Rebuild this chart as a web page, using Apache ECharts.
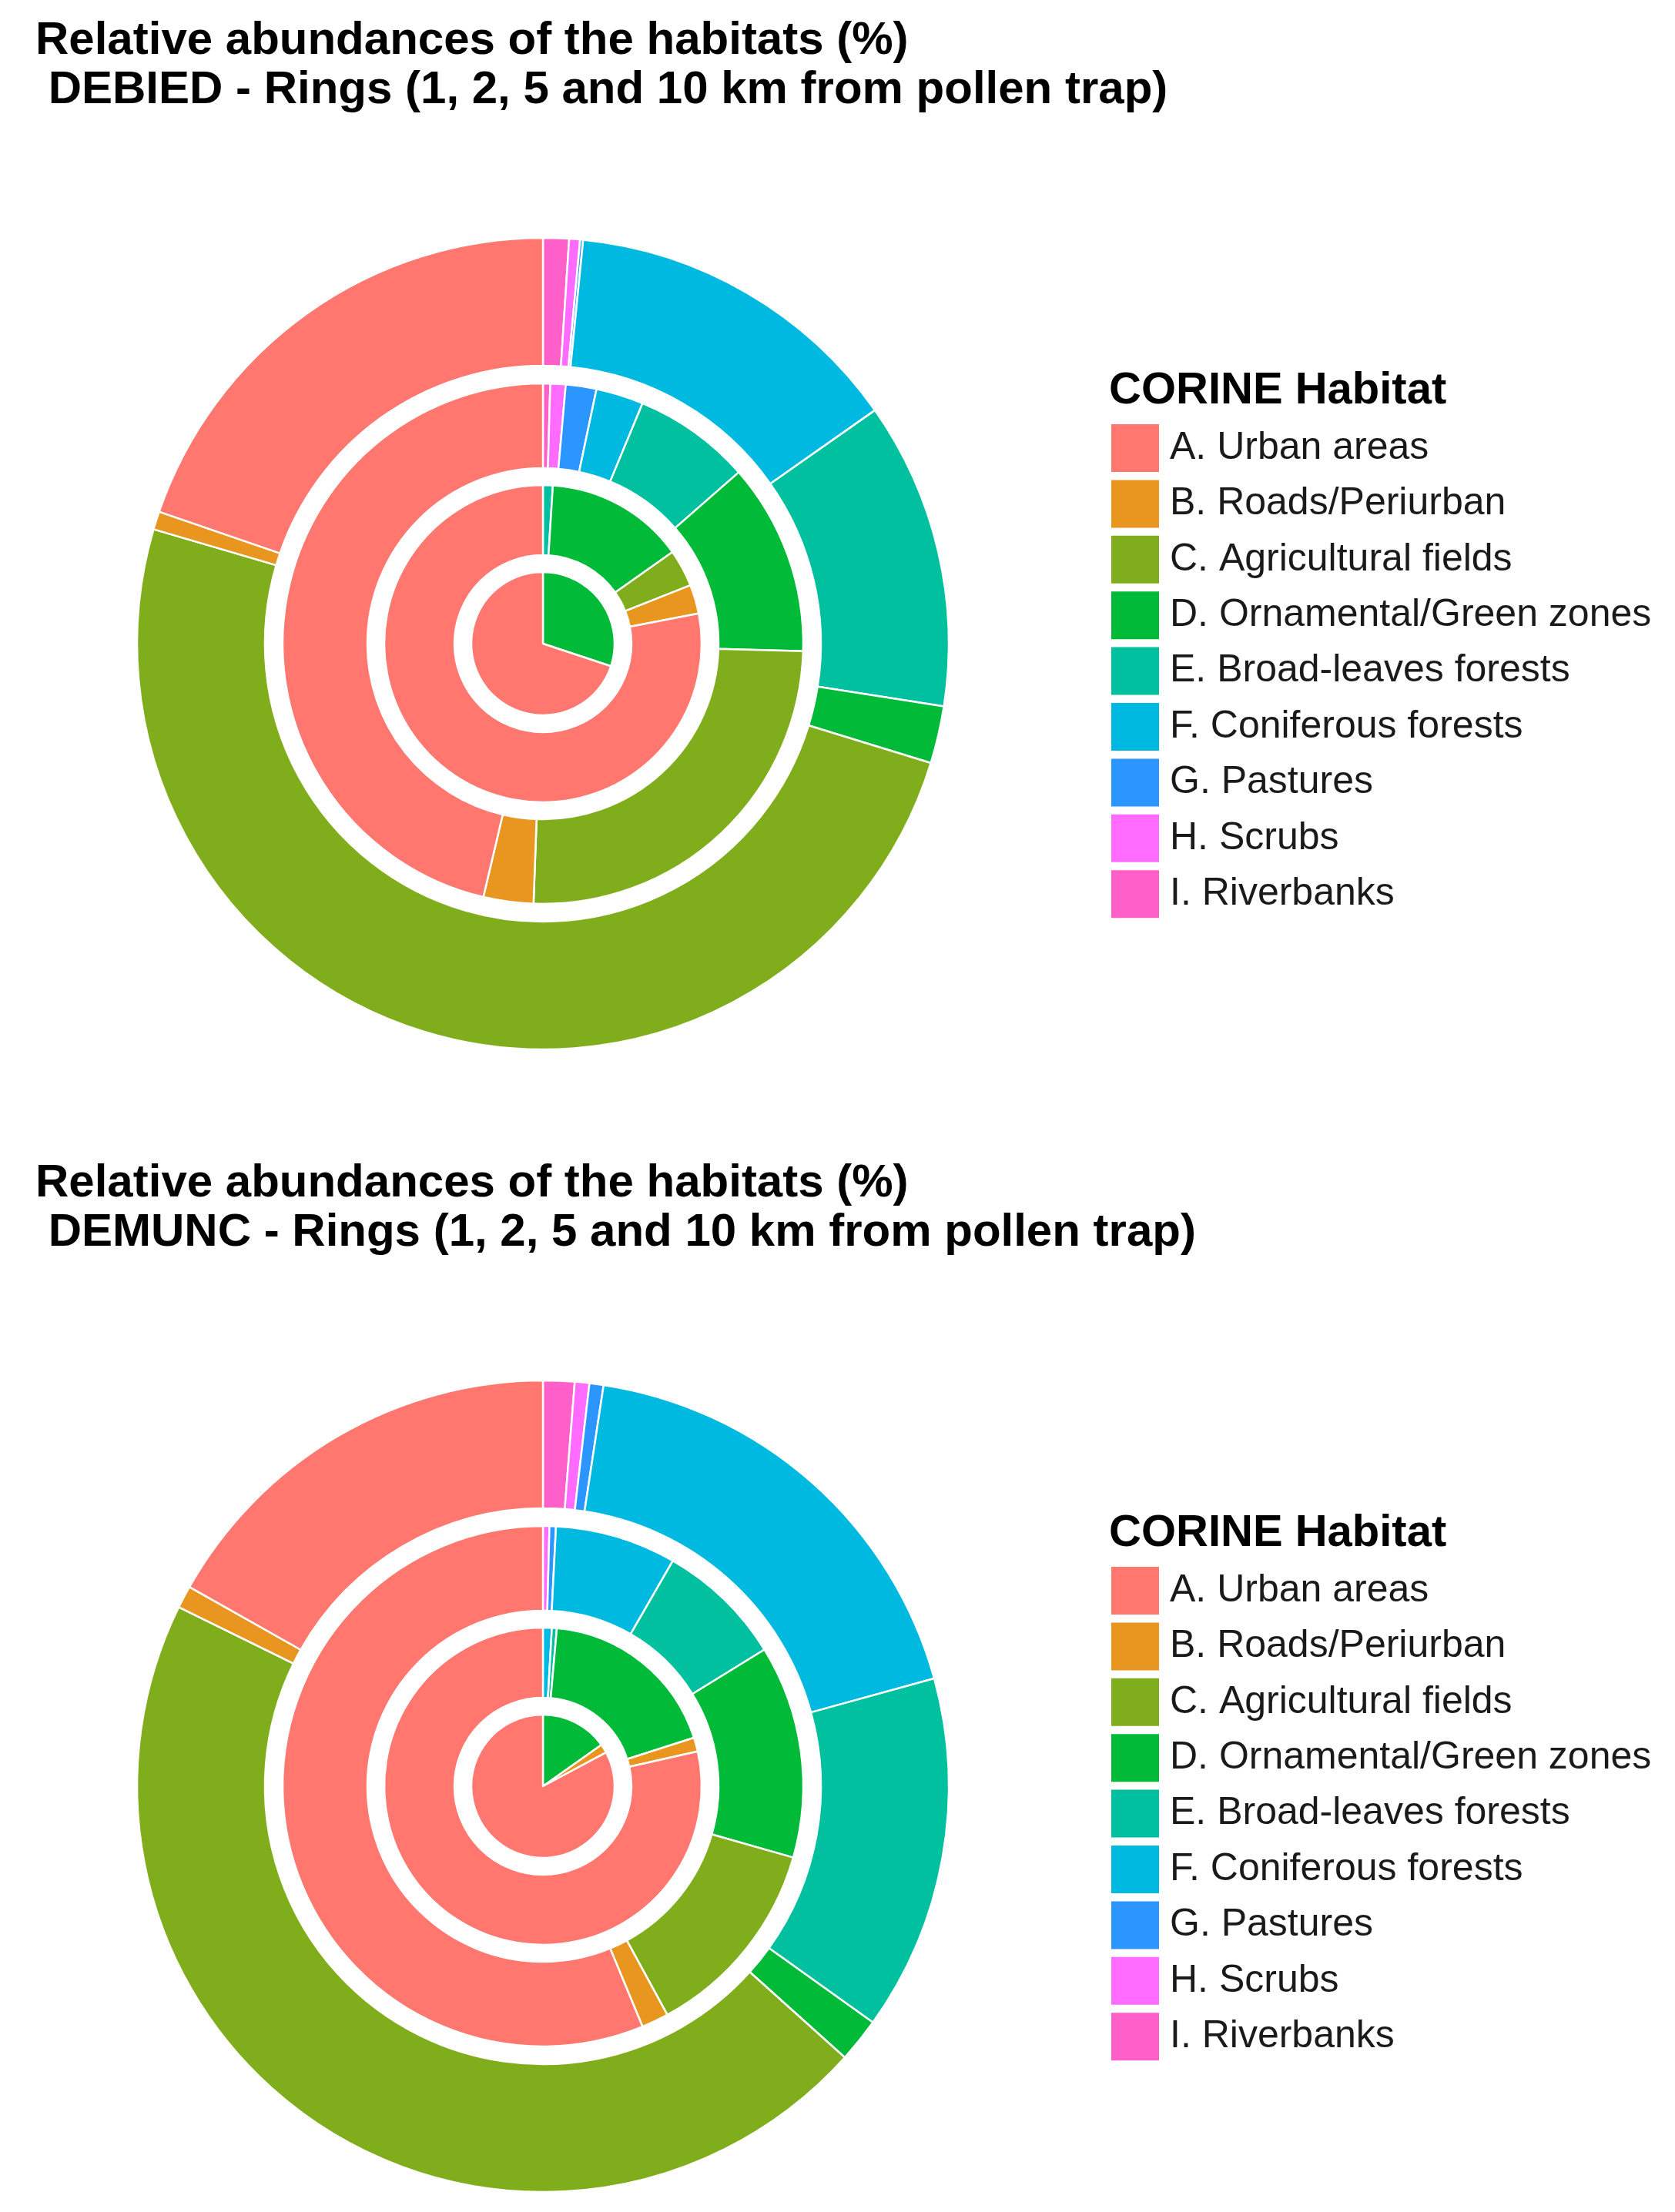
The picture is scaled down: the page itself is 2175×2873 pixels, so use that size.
<!DOCTYPE html>
<html>
<head>
<meta charset="utf-8">
<script src="https://cdn.jsdelivr.net/npm/echarts@6/dist/echarts.min.js"></script>
<style>
html,body{margin:0;padding:0;background:#fff;}
#c{width:2175px;height:2873px;}
</style>
</head>
<body>
<div id="c"></div>
<script>
// Categories (legend order A..I)
const categories = ['A. Urban areas','B. Roads/Periurban','C. Agricultural fields','D. Ornamental/Green zones','E. Broad-leaves forests','F. Coniferous forests','G. Pastures','H. Scrubs','I. Riverbanks'];
const palette = ['#FF776E','#E8961F','#80AD1C','#00BA38','#00C0A0','#00B9E0','#2B96FF','#FF6BFF','#FF5FC8'];

// Relative abundances (%) in order A..I
const debied1km  = [69.9, 0, 0, 30.1, 0, 0, 0, 0, 0];
const debied2km  = [78.05, 2.95, 3.8, 14.2, 1.0, 0, 0, 0, 0];
const debied5km  = [46.3, 3.1, 25.1, 11.9, 7.3, 2.95, 1.9, 0.95, 0.45];
const debied10km = [19.72, 0.72, 49.78, 2.28, 12.22, 13.66, 0.12, 0.43, 1.03];

const demunc1km  = [82.8, 2.0, 0, 15.2, 0, 0, 0, 0, 0];
const demunc2km  = [78.53, 1.42, 0, 18.65, 0.5, 0.9, 0, 0, 0];
const demunc5km  = [56.25, 1.68, 12.65, 13.22, 7.88, 7.52, 0.4, 0.4, 0];
const demunc10km = [16.83, 0.89, 45.63, 1.76, 14.17, 18.33, 0.56, 0.58, 1.25];

const titleLine1 = 'Relative abundances of the habitats (%)';
const titleDebied = ' DEBIED - Rings (1, 2, 5 and 10 km from pollen trap)';
const titleDemunc = ' DEMUNC - Rings (1, 2, 5 and 10 km from pollen trap)';
const legendTitle = 'CORINE Habitat';

const FONT = '"Liberation Sans", Arial, sans-serif';
const ringRadii = [[0, 93], [115, 206], [228, 338], [361, 527]];

function ringSeries(values, center, radius) {
  const data = categories.map((n, i) => ({
    name: n, value: values[i], itemStyle: { color: palette[i] }
  })).filter(d => d.value > 0).reverse();
  return {
    type: 'pie',
    center: center,
    radius: radius,
    startAngle: 90,
    clockwise: true,
    silent: true,
    label: { show: false },
    labelLine: { show: false },
    emphasis: { disabled: true },
    itemStyle: { borderColor: '#ffffff', borderWidth: 2.5 },
    animation: false,
    data: data
  };
}

const c1 = [705, 836];
const c2 = [705, 2320];
const series = [];
[debied1km, debied2km, debied5km, debied10km].forEach((v, i) => series.push(ringSeries(v, c1, ringRadii[i])));
[demunc1km, demunc2km, demunc5km, demunc10km].forEach((v, i) => series.push(ringSeries(v, c2, ringRadii[i])));

function mainTitle(text, top) {
  return {
    text: text, left: 46, top: top, padding: 0,
    textStyle: { fontFamily: FONT, fontWeight: 'bold', fontSize: 60, lineHeight: 64, color: '#000' }
  };
}
function legTitle(top) {
  return {
    text: legendTitle, left: 1440, top: top, padding: 0,
    textStyle: { fontFamily: FONT, fontWeight: 'bold', fontSize: 58, lineHeight: 58, color: '#000' }
  };
}
function legend(top) {
  return {
    data: categories,
    orient: 'vertical',
    left: 1443, top: top,
    padding: 0,
    itemWidth: 62, itemHeight: 62, itemGap: 10.4,
    icon: 'rect',
    selectedMode: false,
    itemStyle: { borderWidth: 0 },
    textStyle: { fontFamily: FONT, fontSize: 50, color: '#1A1A1A', padding: [0, 0, 0, 9] }
  };
}

const chart = echarts.init(document.getElementById('c'), null, { renderer: 'canvas' });
chart.setOption({
  backgroundColor: '#ffffff',
  animation: false,
  title: [
    mainTitle(titleLine1 + '\n' + titleDebied, 21),
    mainTitle(titleLine1 + '\n' + titleDemunc, 1505),
    legTitle(479),
    legTitle(1963)
  ],
  legend: [legend(551), legend(2035)],
  series: series
});
</script>
</body>
</html>
